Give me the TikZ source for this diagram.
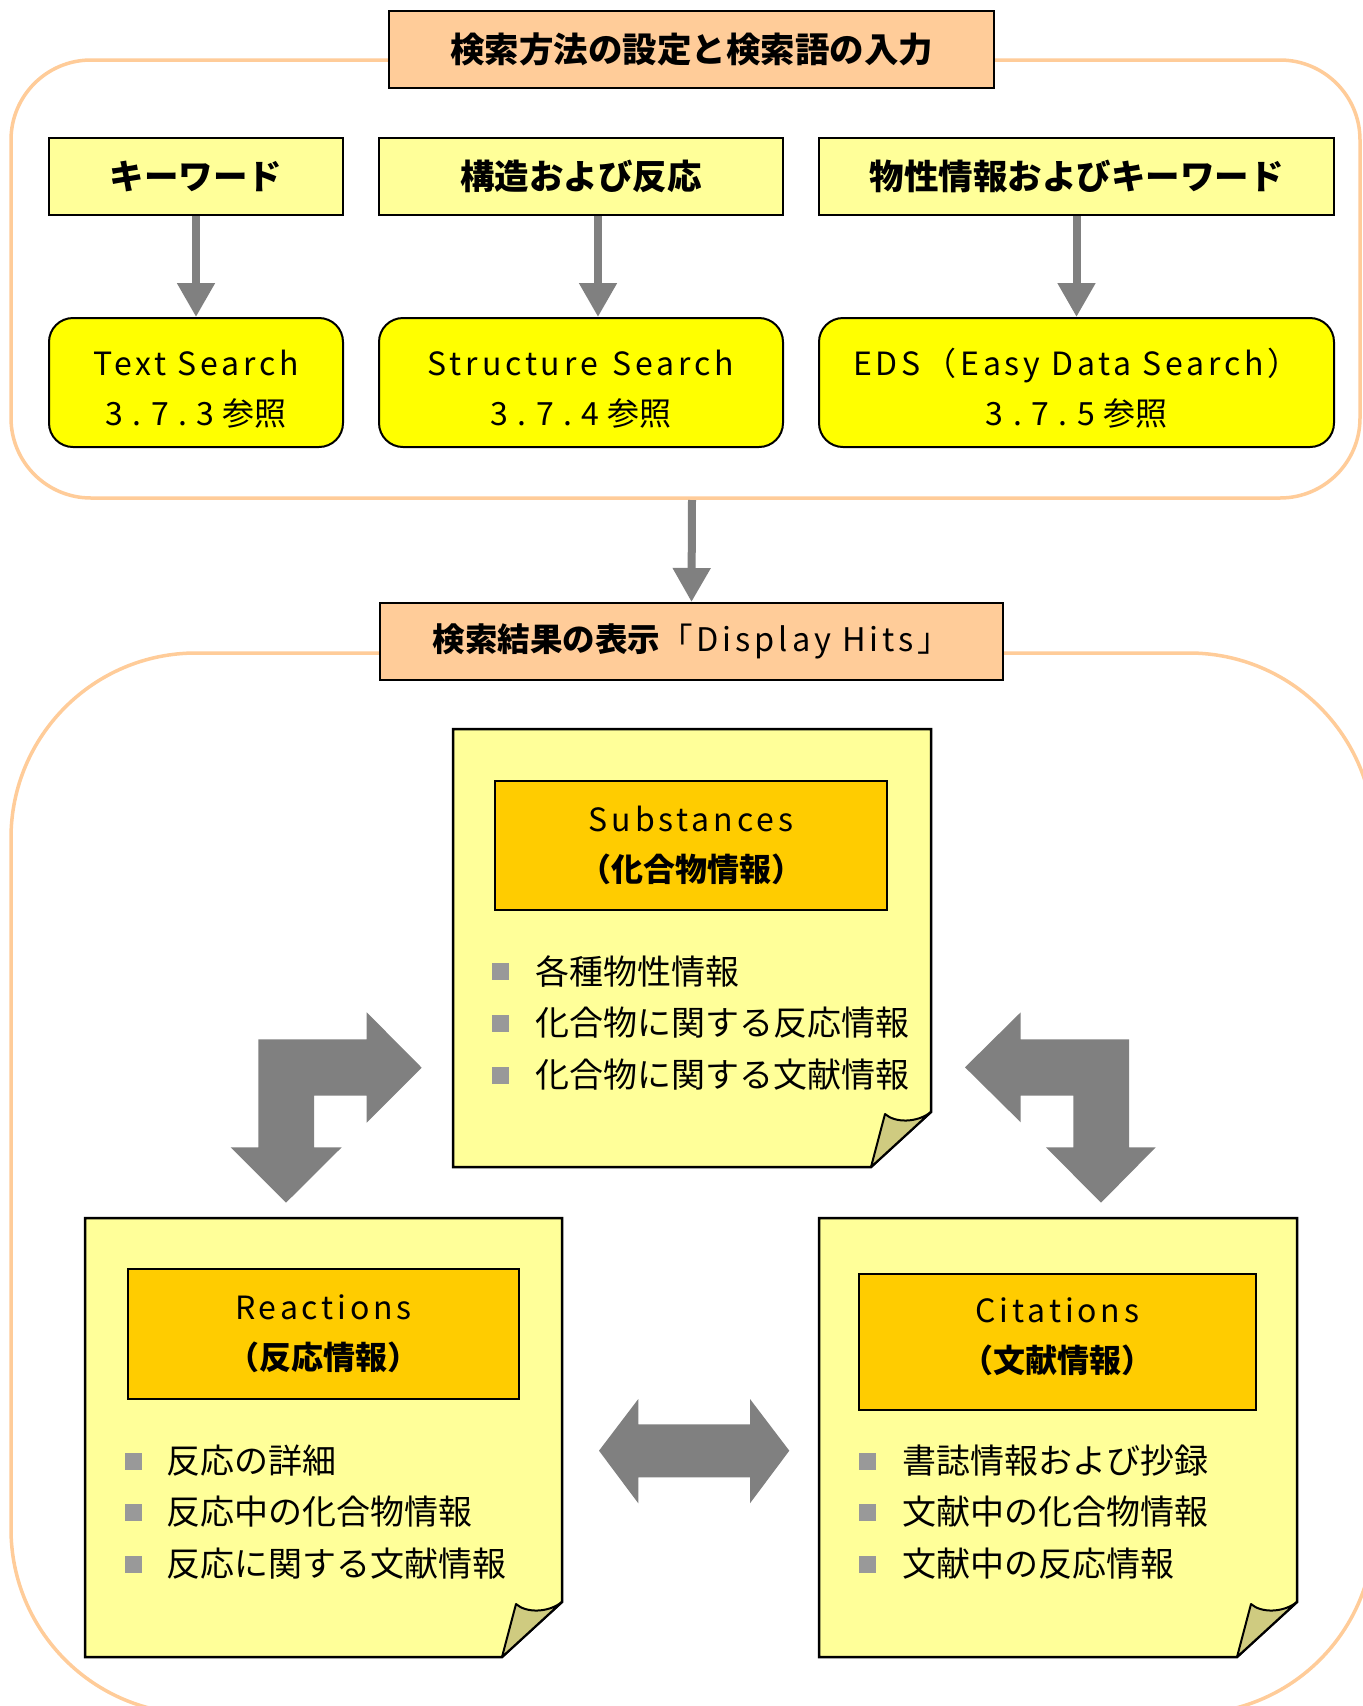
\documentclass[tikz,border=0pt]{standalone}
\usepackage{fontspec}
\setmainfont{Noto Sans CJK JP}
\newfontfamily\lat[LetterSpace=12]{Noto Sans CJK JP}
\newfontfamily\num[LetterSpace=30]{Noto Sans CJK JP}
\usetikzlibrary{arrows.meta}
\definecolor{peach}{HTML}{FFCC99}
\definecolor{lyel}{HTML}{FFFF99}
\definecolor{byel}{HTML}{FFFF00}
\definecolor{gold}{HTML}{FFCC00}
\definecolor{khaki}{HTML}{CFCB80}
\definecolor{agray}{HTML}{808080}
\definecolor{bgray}{HTML}{999999}
\tikzset{
  cont/.style={draw=peach, line width=3.5pt},
  ttl/.style={draw, line width=2pt, fill=peach, inner sep=0pt, font=\fontsize{34.5}{40}\selectfont\bfseries},
  hdr/.style={draw, line width=2pt, fill=lyel, inner sep=0pt, minimum height=77pt, font=\fontsize{34.5}{40}\selectfont\bfseries},
  sbox/.style={draw, line width=2pt, fill=byel, rounded corners=24pt, inner sep=0pt, minimum height=129pt, align=center, font=\fontsize{32}{50}\selectfont},
  ibox/.style={draw, line width=2pt, fill=gold, inner sep=0pt, align=center, font=\fontsize{32}{50}\selectfont},
  note/.style={draw, line width=2.5pt, fill=lyel, line join=miter},
  fold/.style={draw, line width=2pt, fill=khaki, line join=round},
  garrow/.style={draw=agray, line width=8pt, -{Triangle[length=34pt,width=36pt]}},
  bigarrow/.style={fill=agray},
  btext/.style={anchor=west, inner sep=0pt, font=\fontsize{34}{40}\selectfont},
}
\newcommand\stickynote[4]{%
  \draw[note] (#1,#2) -- (#3,#2) -- (#3,#4-55) -- (#3-60,#4) -- (#1,#4) -- cycle;
  \draw[fold] (#3-60,#4) -- (#3-46,#4-53) .. controls (#3-36,#4-44) and (#3-14,#4-44) .. (#3,#4-55) -- cycle;
}
\newcommand\bulletsq[2]{\fill[bgray] (#1,#2-8.5) rectangle (#1+17,#2+8.5);}
\newcommand\topstrut{\rule{0pt}{39pt}}
\begin{document}
\begin{tikzpicture}[x=1pt,y=-1pt]
\useasboundingbox (0,0) rectangle (1363,1706);
\clip (0,0) rectangle (1363,1706);
\fill[white] (0,0) rectangle (1363,1706);

% containers
\draw[cont, rounded corners=80pt] (11,60) rectangle (1360,498);
\draw[cont, rounded corners=185pt] (11,653) rectangle (1374,1714);
\coordinate (c1b) at (692,500);

% titles
\node[ttl, minimum width=605pt, minimum height=77pt] (t1) at (691.5,49.5) {検索方法の設定と検索語の入力};
\node[ttl, minimum width=623pt, minimum height=77pt, font=\fontsize{32.5}{40}\selectfont\bfseries] (t2) at (691.5,641.5) {検索結果の表示{\mdseries\lat 「Display Hits」}};

% headers
\node[hdr, minimum width=294pt] (kw) at (196,176.5) {キーワード};
\node[hdr, minimum width=404pt] (st) at (581,176.5) {構造および反応};
\node[hdr, minimum width=515pt] (pk) at (1076.5,176.5) {物性情報およびキーワード};

% search boxes
\node[sbox, minimum width=294pt] (ts) at (196,382.5) {\topstrut{\lat Text Search}\\{\num 3.7.3}\kern8pt 参照};
\node[sbox, minimum width=404pt] (ss) at (581,382.5) {\topstrut{\lat Structure\hspace{4pt} Search}\\{\num 3.7.4}\kern8pt 参照};
\node[sbox, minimum width=515pt] (eds) at (1076.5,382.5) {\topstrut{\lat EDS（Easy Data Search）}\\{\num 3.7.5}\kern8pt 参照};

% thin arrows
\draw[garrow] (kw.south) -- (ts.north);
\draw[garrow] ([xshift=17pt]st.south) -- ([xshift=17pt]ss.north);
\draw[garrow] (pk.south) -- (eds.north);
\draw[garrow] (c1b) -- (t2.north);

% sticky notes
\stickynote{453}{729}{931}{1167}
\stickynote{85}{1218}{562}{1657}
\stickynote{819}{1218}{1297}{1657}

% inner title boxes
\node[ibox, minimum width=392pt, minimum height=129pt] (sub) at (691,845.5) {{\lat Substances}\\\textbf{（化合物情報）}};
\node[ibox, minimum width=391pt, minimum height=130pt] (rea) at (323.5,1334) {{\lat Reactions}\\\textbf{（反応情報）}};
\node[ibox, minimum width=397pt, minimum height=136pt] (cit) at (1057.5,1342) {{\lat Citations}\\\textbf{（文献情報）}\rule[-13pt]{0pt}{13pt}};

% bullets note 1
\bulletsq{492}{971}
\bulletsq{492}{1023}
\bulletsq{492}{1075}
\node[btext] (s1) at (535,971) {各種物性情報};
\node[btext] (s2) at (535,1023) {化合物に関する反応情報};
\node[btext] (s3) at (535,1075) {化合物に関する文献情報};
% bullets note 2
\bulletsq{125}{1461}
\bulletsq{125}{1512}
\bulletsq{125}{1564}
\node[btext] (r1) at (166,1461) {反応の詳細};
\node[btext] (r2) at (166,1512) {反応中の化合物情報};
\node[btext] (r3) at (166,1564) {反応に関する文献情報};
% bullets note 3
\bulletsq{859}{1461}
\bulletsq{859}{1512}
\bulletsq{859}{1564}
\node[btext] (c1) at (902,1461) {書誌情報および抄録};
\node[btext] (c2) at (902,1512) {文献中の化合物情報};
\node[btext] (c3) at (902,1564) {文献中の反応情報};

% big arrows
\fill[bigarrow] (258.3,1039.3) -- (366.7,1039.3) -- (366.7,1012.3) -- (421.7,1067.7) -- (366.7,1122.7) -- (366.7,1095.7) -- (314,1095.7) -- (314,1147.3) -- (341.7,1147.3) -- (286,1202.7) -- (230.7,1147.3) -- (258.3,1147.3) -- cycle;
\fill[bigarrow] (965,1067.3) -- (1020.7,1012.3) -- (1020.7,1039.3) -- (1129,1039.3) -- (1129,1147.3) -- (1155.7,1147.3) -- (1101,1202.7) -- (1046,1147.3) -- (1073.3,1147.3) -- (1073.3,1095.7) -- (1020.7,1095.7) -- (1020.7,1122.3) -- cycle;
\fill[bigarrow] (599,1450.7) -- (638.3,1399) -- (638.3,1424.3) -- (750,1424.3) -- (750,1399) -- (789.3,1450.7) -- (750,1503.3) -- (750,1477.3) -- (638.3,1477.3) -- (638.3,1503.3) -- cycle;
\end{tikzpicture}
\end{document}
